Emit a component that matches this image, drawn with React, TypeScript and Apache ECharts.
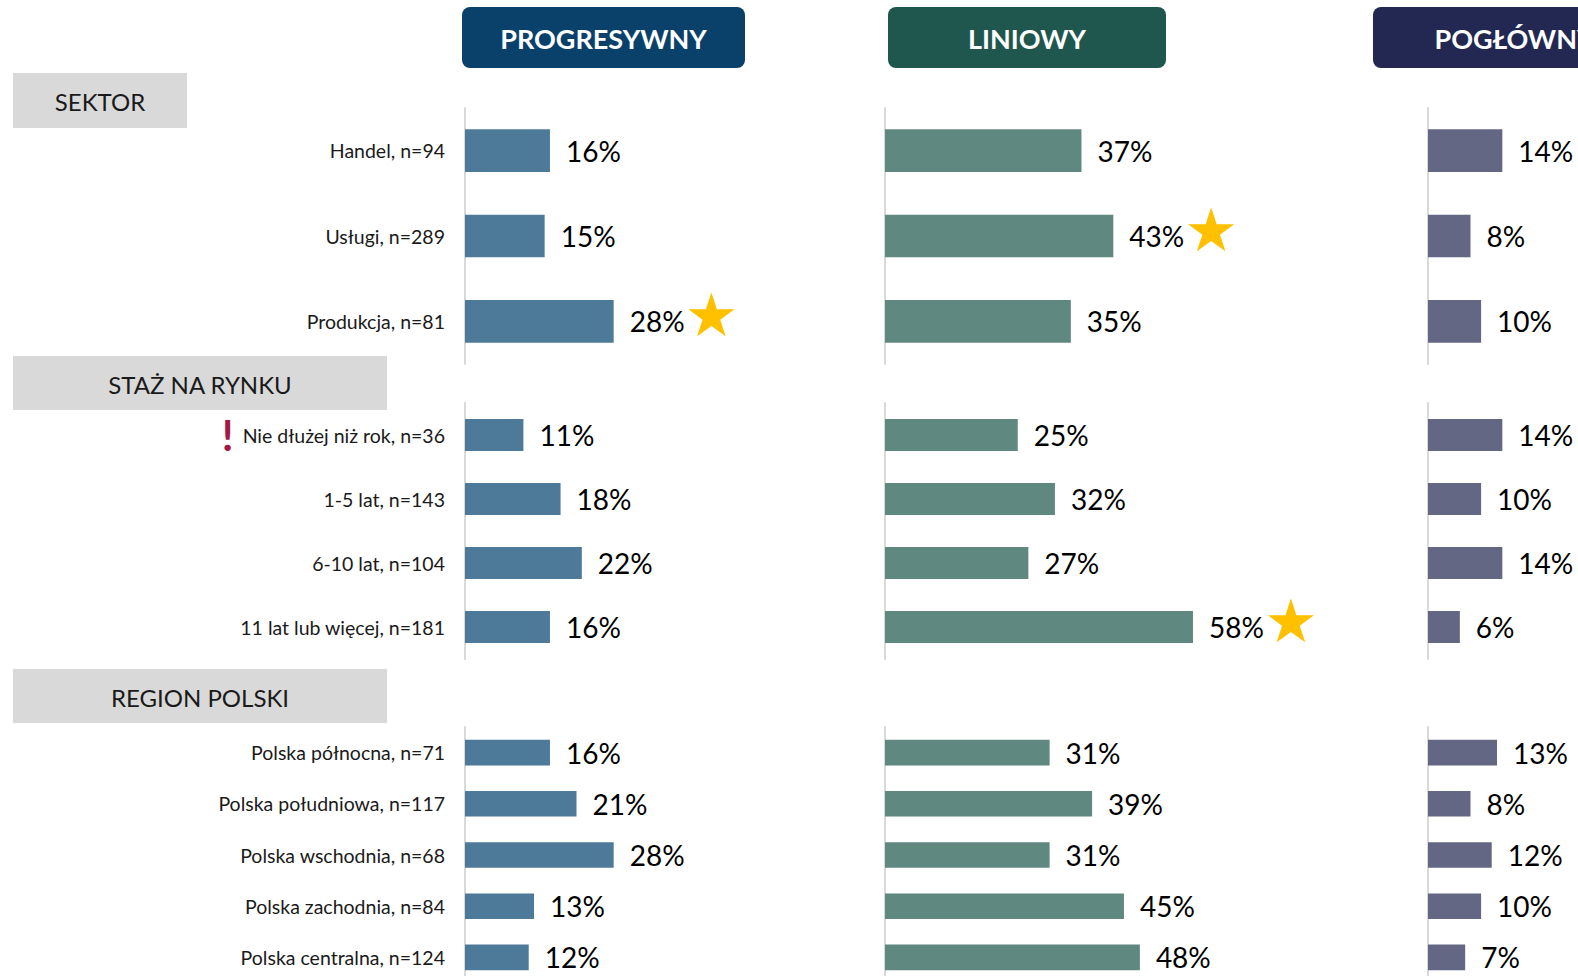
import React, { useEffect, useRef } from "react";
import * as echarts from "echarts";

// ---- data ----
const columns = ["PROGRESYWNY", "LINIOWY", "POGŁÓWNY"];
const sections = ["SEKTOR", "STAŻ NA RYNKU", "REGION POLSKI"];

const categoriesSektor = ["Handel, n=94", "Usługi, n=289", "Produkcja, n=81"];
const categoriesStaz = [
  "Nie dłużej niż rok, n=36",
  "1-5 lat, n=143",
  "6-10 lat, n=104",
  "11 lat lub więcej, n=181",
];
const categoriesRegion = [
  "Polska północna, n=71",
  "Polska południowa, n=117",
  "Polska wschodnia, n=68",
  "Polska zachodnia, n=84",
  "Polska centralna, n=124",
];

const progresywnySektor = [16, 15, 28];
const progresywnyStaz = [11, 18, 22, 16];
const progresywnyRegion = [16, 21, 28, 13, 12];

const liniowySektor = [37, 43, 35];
const liniowyStaz = [25, 32, 27, 58];
const liniowyRegion = [31, 39, 31, 45, 48];

const poglownySektor = [14, 8, 10];
const poglownyStaz = [14, 10, 14, 6];
const poglownyRegion = [13, 8, 12, 10, 7];

// highlighted (star) cells: [column, category]
const highlighted = [
  ["PROGRESYWNY", "Produkcja, n=81"],
  ["LINIOWY", "Usługi, n=289"],
  ["LINIOWY", "11 lat lub więcej, n=181"],
];
// small sample warning
const smallSample = ["Nie dłużej niż rok, n=36"];

// ---- layout / style ----
const FONT = "Lato, 'Noto Sans', sans-serif";
const headerColors = ["#0a416b", "#1f564e", "#222851"];
const barColors = ["#4e7a9a", "#5f8881", "#636784"];
const colLeft = [465, 885, 1428];
const headerLeft = [462, 888, 1373];
const headerWidths = [283, 278, 283];
const sectionTop = [108, 403, 727];
const sectionHeight = 256;
const axisWidth = 531; // width for 0..100

const sectionCats = [categoriesSektor, categoriesStaz, categoriesRegion];
const values = [
  [progresywnySektor, progresywnyStaz, progresywnyRegion],
  [liniowySektor, liniowyStaz, liniowyRegion],
  [poglownySektor, poglownyStaz, poglownyRegion],
];

const sectionBoxes = [
  { x: 13, y: 73, w: 174, h: 55, cx: 100, cy: 101 },
  { x: 13, y: 356, w: 374, h: 54, cx: 200, cy: 384 },
  { x: 13, y: 669, w: 374, h: 54, cx: 200, cy: 697 },
];

export default function App() {
  const ref = useRef<HTMLDivElement>(null);
  useEffect(() => {
    document.body.style.margin = "0";
    const chart = echarts.init(ref.current!, null, { renderer: "svg" });

    const grids: any[] = [];
    const xAxes: any[] = [];
    const yAxes: any[] = [];
    const series: any[] = [];
    let idx = 0;
    for (let c = 0; c < 3; c++) {
      for (let s = 0; s < 3; s++) {
        grids.push({
          left: colLeft[c],
          top: sectionTop[s],
          width: axisWidth,
          height: sectionHeight,
          containLabel: false,
          outerBoundsMode: "none",
        });
        xAxes.push({
          type: "value",
          gridIndex: idx,
          min: 0,
          max: 100,
          show: false,
        });
        yAxes.push({
          type: "category",
          gridIndex: idx,
          inverse: true,
          data: sectionCats[s],
          axisLine: { show: true, lineStyle: { color: "#d9d9d9", width: 2 } },
          axisTick: { show: false },
          splitLine: { show: false },
          axisLabel: {
            show: c === 0,
            margin: 20,
            formatter: (v: string) =>
              smallSample.includes(v) ? `{ex|!}{c|${v}}` : `{c|${v}}`,
            rich: {
              c: { fontSize: 19.5, color: "#1a1a1a", fontFamily: FONT },
              ex: {
                fontSize: 42,
                color: "#a3174a",
                fontFamily: FONT,
                fontWeight: "bold",
                padding: [0, 9, 0, 0],
              },
            },
          },
        });
        const col = columns[c];
        const cats = sectionCats[s];
        series.push({
          type: "bar",
          xAxisIndex: idx,
          yAxisIndex: idx,
          data: values[c][s],
          barWidth: "50%",
          itemStyle: { color: barColors[c] },
          label: {
            show: true,
            position: "right",
            distance: 16,
            formatter: (p: any) => {
              const cat = cats[p.dataIndex];
              const star = highlighted.some((h) => h[0] === col && h[1] === cat);
              return star ? `{v|${p.value}%}{s|★}` : `{v|${p.value}%}`;
            },
            rich: {
              v: { fontSize: 28, color: "#000", fontFamily: FONT },
              s: {
                fontSize: 60,
                color: "#ffc000",
                fontFamily: "'DejaVu Sans'",
                padding: [0, 0, 12, 0],
              },
            },
          },
        });
        idx++;
      }
    }

    const graphic: any[] = [];
    columns.forEach((name, c) => {
      graphic.push({
        type: "rect",
        shape: { x: headerLeft[c], y: 7, width: headerWidths[c], height: 61, r: 8 },
        style: { fill: headerColors[c] },
        z: 10,
      });
      graphic.push({
        type: "text",
        x: headerLeft[c] + headerWidths[c] / 2,
        y: 38,
        style: {
          text: name,
          fill: "#fff",
          font: `bold 27px ${FONT}`,
          textAlign: "center",
          textVerticalAlign: "middle",
        },
        z: 11,
      });
    });
    sections.forEach((name, s) => {
      const b = sectionBoxes[s];
      graphic.push({
        type: "rect",
        shape: { x: b.x, y: b.y, width: b.w, height: b.h },
        style: { fill: "#d9d9d9" },
        z: 10,
      });
      graphic.push({
        type: "text",
        x: b.cx,
        y: b.cy,
        style: {
          text: name,
          fill: "#1a1a1a",
          font: `24px ${FONT}`,
          textAlign: "center",
          textVerticalAlign: "middle",
        },
        z: 11,
      });
    });

    chart.setOption({
      animation: false,
      backgroundColor: "#fff",
      grid: grids,
      xAxis: xAxes,
      yAxis: yAxes,
      series,
      graphic,
    });
    return () => chart.dispose();
  }, []);
  return <div ref={ref} style={{ width: 1578, height: 976 }} />;
}
